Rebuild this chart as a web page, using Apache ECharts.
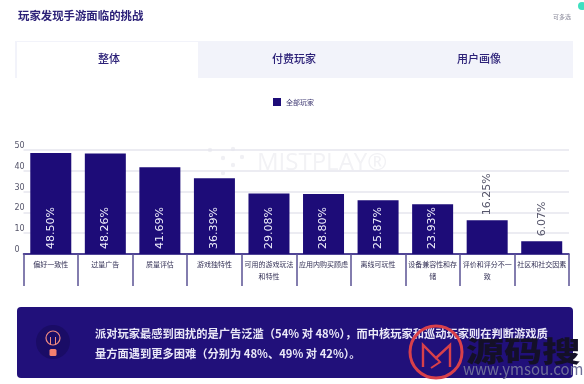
<!DOCTYPE html>
<html><head><meta charset="utf-8">
<style>html,body{margin:0;padding:0;background:#fff}#c{width:584px;height:384px;filter:blur(.5px)}</style>
<script src="https://cdn.jsdelivr.net/npm/echarts@6/dist/echarts.min.js"></script>
</head><body><div id="c"></div>
<script>
const categories=['偏好一致性','过量广告','质量评估','游戏独特性','可用的游戏玩法\n和特性','应用内购买顾虑','离线可玩性','设备兼容性和存\n储','评价和评分不一\n致','社区和社交因素'];
const values=[48.50,48.26,41.69,36.39,29.08,28.80,25.87,23.93,16.25,6.07];
const outsideFrom=8;
const seriesName='全部玩家';
const title='玩家发现手游面临的挑战';
const note='可多选';
const tabs=['整体','付费玩家','用户画像'];
const callout=['派对玩家最感到困扰的是广告泛滥（54% 对 48%），而中核玩家和巡动玩家则在判断游戏质','量方面遇到更多困难（分别为 48%、49% 对 42%）。'];
const CJK='"Noto Sans CJK SC","Noto Sans",sans-serif';
const navy='#1d0c78';
const chart=echarts.init(document.getElementById('c'),null,{renderer:'canvas'});
function txt(x,y,text,size,color,weight,align,z){return {type:'text',x,y,z:z||5,silent:true,style:{text,font:(weight||400)+' '+size+'px '+CJK,fill:color,textAlign:align||'left',textVerticalAlign:'middle'}};}
const dots=[[210,150],[233,149],[242,157],[223,158],[233,165],[223,173]].map(p=>({type:'circle',z:0,silent:true,shape:{cx:p[0],cy:p[1],r:2.2},style:{fill:'#f0f0f4'}}));
const graphic=[
 {type:'rect',z:-1,shape:{x:15,y:41,width:558,height:37},style:{fill:'#f2f3fa'}},
 {type:'rect',z:-1,shape:{x:17,y:42,width:181,height:37},style:{fill:'#ffffff'}},
 txt(18,16,title,11.4,'#2c2178',700),
 txt(553,17,note,6,'#8a8a9a'),
 txt(109,59,tabs[0],11,'#2c2178',500,'center'),
 txt(294,59,tabs[1],11,'#2c2178',500,'center'),
 txt(479,59,tabs[2],11,'#2c2178',500,'center'),
 ...dots,
 {type:'text',x:257,y:163,z:0,silent:true,style:{text:'MISTPLAY®',font:'400 24px "Open Sans",sans-serif',fill:'#f2f2f5',textVerticalAlign:'middle'}},
 {type:'circle',shape:{cx:582,cy:6,r:4},style:{fill:'#3fe0c0'}},
 {type:'rect',z:3,shape:{x:17,y:307,width:556,height:71,r:4},style:{fill:'#21107a'}},
 {type:'circle',z:4,shape:{cx:53,cy:342,r:17},style:{fill:'#1a0c66'}},
 {type:'circle',z:5,shape:{cx:53,cy:338,r:7},style:{fill:'none',stroke:'#f08a80',lineWidth:1.2}},
 {type:'polyline',z:5,shape:{points:[[50.5,345],[50.5,337]]},style:{stroke:'#f08a80',lineWidth:1}},
 {type:'polyline',z:5,shape:{points:[[55.5,345],[55.5,337]]},style:{stroke:'#f08a80',lineWidth:1}},
 {type:'rect',z:5,shape:{x:49.5,y:349,width:7,height:7,r:1.5},style:{fill:'#f4806f'}},
 txt(95,334,callout[0],11.25,'#e9e7f7',700,'left',6),
 txt(95,354,callout[1],11.25,'#e9e7f7',700,'left',6),
 {type:'circle',z:7,shape:{cx:436,cy:352,r:26},style:{fill:'none',stroke:'#d8404a',lineWidth:3}},
 {type:'polyline',z:7,shape:{points:[[423,367],[423,345],[436,358],[450,345],[450,367]]},style:{fill:'none',stroke:'#d8404a',lineWidth:2.4}},
 {type:'polyline',z:7,shape:{points:[[436,358],[440,362],[431,368]]},style:{fill:'none',stroke:'#d8404a',lineWidth:2}},
 {type:'text',x:466,y:351,z:7,silent:true,scaleX:1.36,style:{text:'源码搜',font:'900 28px '+CJK,fill:'#141028',textVerticalAlign:'middle'}},
 txt(463,369,'www.ymsou.com',15,'#6e6f98',400,'left',7)
];
chart.setOption({
 animation:false,
 legend:{data:[seriesName],top:93,left:268,itemWidth:8,itemHeight:8,itemGap:4,icon:'rect',textStyle:{fontSize:7,color:'#3b3570',fontFamily:CJK}},
 grid:{left:23.5,right:15,top:150,bottom:130,containLabel:false},
 xAxis:{type:'category',data:categories,
  axisLine:{lineStyle:{color:navy,width:1.5}},
  axisTick:{show:true,length:32,lineStyle:{color:'#5b5394',width:1.5}},
  axisLabel:{interval:0,margin:4,fontSize:7,lineHeight:12,color:'#333055',fontFamily:CJK,verticalAlign:'top'}},
 yAxis:{type:'value',min:0,max:50,interval:10,
  axisLine:{show:false},axisTick:{show:false},
  splitLine:{lineStyle:{color:'#e6e6ee',width:1.5}},
  axisLabel:{align:'left',verticalAlign:'bottom',margin:9,fontSize:8,color:'#55556a',fontFamily:'"DejaVu Sans",sans-serif'}},
 series:[{name:seriesName,type:'bar',barWidth:41,itemStyle:{color:navy},
  data:values.map((v,i)=>({value:v,label:i>=outsideFrom
    ?{position:'top',distance:5,color:'#55556a'}
    :{position:'insideBottom',distance:5,color:'#eeeefb'}})),
  label:{show:true,rotate:90,align:'left',verticalAlign:'middle',fontSize:11,fontFamily:'"DejaVu Sans",sans-serif',
   formatter:p=>p.value.toFixed(2)+'%'}}],
 graphic:graphic
});
</script></body></html>
